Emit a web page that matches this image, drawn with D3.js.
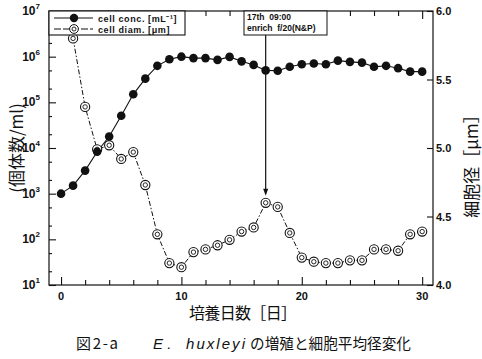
<!DOCTYPE html>
<html><head><meta charset="utf-8">
<script src="https://cdn.jsdelivr.net/npm/d3@7"></script>
<style>body{margin:0;background:#fff} svg{display:block}</style>
</head><body><svg id="c" width="482" height="359"></svg>
<script>
// ---- data ----
const concDays = d3.range(0, 31);
const cellConc = [1000,1500,3200,8300,17800,51000,150000,330000,630000,880000,1000000,930000,930000,850000,990000,790000,660000,500000,490000,600000,680000,710000,680000,820000,770000,740000,600000,630000,560000,470000,470000];
const diamDays = d3.range(1, 31);
const cellDiam = [5.80,5.30,4.99,5.02,4.92,4.97,4.73,4.37,4.16,4.13,4.24,4.26,4.29,4.33,4.39,4.42,4.60,4.57,4.38,4.20,4.17,4.16,4.16,4.18,4.18,4.26,4.26,4.25,4.37,4.39];
const xTickLabels = [0, 10, 20, 30];
const leftExps = [1, 2, 3, 4, 5, 6, 7];
const rightTickLabels = ["4.0", "4.5", "5.0", "5.5", "6.0"];
const legendLabels = ["cell conc. [mL\u207B\u00B9]", "cell diam. [\u03BCm]"];
const noteLines = ["17th  09:00", "enrich  f/20(N&P)"];
const noteDay = 17;
const xTitle = "培養日数［日］";
const leftTitle = "(個体数/ml)";
const rightTitle = "細胞径［μm］";
const capParts = ["図 2 - a", "E .", "huxleyi", "の増殖と細胞平均径変化"];

// ---- layout ----
const L = 49, R = 433, T = 11, B = 285;
const ink = "#111";
const svg = d3.select("#c");
const x = d3.scaleLinear().domain([-1, 30.9]).range([L, R]);
const yL = d3.scaleLog().domain([10, 1e7]).range([B, T]);
const yR = d3.scaleLinear().domain([4, 6]).range([B, T]);
const numFont = "'Liberation Sans', Arial, sans-serif";
const jpFont = "'Noto Sans CJK JP', sans-serif";

// frame
svg.append("rect").attr("x", L).attr("y", T).attr("width", R - L).attr("height", B - T)
  .attr("fill", "none").attr("stroke", ink).attr("stroke-width", 1.2);

// bottom / top ticks
const xTickVals = d3.range(0, 31, 2);
function styleAxis(g) {
  g.select(".domain").remove();
  g.selectAll("line").attr("stroke", ink).attr("stroke-width", 1.1);
  g.selectAll("text").remove();
}
svg.append("g").attr("transform", `translate(0,${B})`)
  .call(d3.axisBottom(x).tickValues(xTickVals).tickSize(-5))
  .call(styleAxis)
  .selectAll(".tick line").attr("y2", d => d % 10 === 0 ? -8 : -5);
svg.append("g").attr("transform", `translate(0,${T})`)
  .call(d3.axisTop(x).tickValues(xTickVals).tickSize(-5))
  .call(styleAxis)
  .selectAll(".tick line").attr("y2", d => d % 10 === 0 ? 8 : 5);
svg.append("g").selectAll("text").data(xTickLabels).join("text")
  .attr("x", d => x(d)).attr("y", B + 15).attr("text-anchor", "middle")
  .attr("font-family", numFont).attr("font-weight", "bold").attr("font-size", 11).attr("fill", ink)
  .text(d => d);

// left axis
const leftTickVals = [];
leftExps.forEach(e => { leftTickVals.push(Math.pow(10, e)); if (e < 7) { leftTickVals.push(2 * Math.pow(10, e)); leftTickVals.push(5 * Math.pow(10, e)); } });
svg.append("g").attr("transform", `translate(${L},0)`)
  .call(d3.axisLeft(yL).tickValues(leftTickVals).tickSize(-3))
  .call(styleAxis)
  .selectAll(".tick line").attr("x2", d => Math.abs(Math.log10(d) % 1) < 1e-9 ? 7 : 3);
const lt = svg.append("g").selectAll("text").data(leftExps).join("text")
  .attr("x", 40).attr("y", d => yL(Math.pow(10, d)) + 4).attr("text-anchor", "end")
  .attr("font-family", numFont).attr("font-weight", "bold").attr("font-size", 12).attr("fill", ink);
lt.append("tspan").text("10");
lt.append("tspan").attr("font-size", 8).attr("dy", -6).text(d => d);

// right axis
svg.append("g").attr("transform", `translate(${R},0)`)
  .call(d3.axisRight(yR).tickValues([4, 4.5, 5, 5.5, 6]).tickSize(-6))
  .call(styleAxis);
svg.append("g").selectAll("text").data(rightTickLabels).join("text")
  .attr("x", R + 3).attr("y", d => yR(+d) + 4)
  .attr("font-family", numFont).attr("font-weight", "bold").attr("font-size", 11).attr("fill", ink)
  .text(d => d);

// diameter line (dash-dot)
const diamData = diamDays.map((d, i) => [d, cellDiam[i]]);
svg.append("path").datum(diamData)
  .attr("d", d3.line().x(d => x(d[0])).y(d => yR(d[1])))
  .attr("fill", "none").attr("stroke", ink).attr("stroke-width", 1).attr("stroke-dasharray", "5,2,1.5,2");
// conc line
const concData = concDays.map((d, i) => [d, cellConc[i]]);
svg.append("path").datum(concData)
  .attr("d", d3.line().x(d => x(d[0])).y(d => yL(d[1])))
  .attr("fill", "none").attr("stroke", ink).attr("stroke-width", 1.1);

// annotation arrow
const ax = x(noteDay);
const tipY = yR(cellDiam[diamDays.indexOf(noteDay)]) - 7;
svg.append("line").attr("x1", ax).attr("x2", ax).attr("y1", 35).attr("y2", tipY - 4)
  .attr("stroke", ink).attr("stroke-width", 1.2);
svg.append("path").attr("d", `M${ax - 2.5},${tipY - 7}L${ax + 2.5},${tipY - 7}L${ax},${tipY}Z`).attr("fill", ink);

// open double-circle markers
const dm = svg.append("g").selectAll("g").data(diamData).join("g")
  .attr("transform", d => `translate(${x(d[0])},${yR(d[1])})`);
dm.append("circle").attr("r", 4.6).attr("fill", "#fff").attr("stroke", ink).attr("stroke-width", 1.1);
dm.append("circle").attr("r", 2.2).attr("fill", "none").attr("stroke", ink).attr("stroke-width", 0.9);

// filled markers
svg.append("g").selectAll("circle").data(concData).join("circle")
  .attr("cx", d => x(d[0])).attr("cy", d => yL(d[1])).attr("r", 4.3).attr("fill", ink);

// legend
const lg = svg.append("g");
lg.append("rect").attr("x", L).attr("y", T).attr("width", 136).attr("height", 24)
  .attr("fill", "#fff").attr("stroke", ink).attr("stroke-width", 1.1);
const rows = lg.selectAll("g").data(legendLabels).join("g")
  .attr("transform", (d, i) => `translate(0,${T + 7 + i * 11})`);
rows.append("line").attr("x1", L + 5).attr("x2", L + 44).attr("y1", 0).attr("y2", 0)
  .attr("stroke", ink).attr("stroke-width", 1.1)
  .attr("stroke-dasharray", (d, i) => i === 0 ? null : "7,2");
rows.each(function (d, i) {
  const g = d3.select(this);
  if (i === 0) {
    g.append("circle").attr("cx", L + 25).attr("cy", 0).attr("r", 4.2).attr("fill", ink);
  } else {
    g.append("circle").attr("cx", L + 25).attr("cy", 0).attr("r", 4.4).attr("fill", "#fff").attr("stroke", ink).attr("stroke-width", 1);
    g.append("circle").attr("cx", L + 25).attr("cy", 0).attr("r", 2).attr("fill", "none").attr("stroke", ink).attr("stroke-width", 0.9);
  }
});
rows.append("text").attr("x", L + 49).attr("y", 3.5)
  .attr("font-family", numFont).attr("font-size", 9).attr("font-weight", "bold").attr("letter-spacing", 0.6)
  .attr("fill", ink).text(d => d);

// note box
const nb = svg.append("g");
nb.append("rect").attr("x", 244).attr("y", T).attr("width", 83).attr("height", 24)
  .attr("fill", "#fff").attr("stroke", ink).attr("stroke-width", 1);
nb.selectAll("text").data(noteLines).join("text")
  .attr("x", 247).attr("y", (d, i) => T + 9 + i * 11)
  .attr("font-family", numFont).attr("font-size", 8.5).attr("font-weight", "bold")
  .attr("fill", ink).attr("xml:space", "preserve").style("white-space", "pre").text(d => d);

// titles
svg.append("text").attr("x", 243).attr("y", 319).attr("text-anchor", "middle")
  .attr("font-family", jpFont).attr("font-size", 16).attr("fill", ink)
  .attr("textLength", 108).attr("lengthAdjust", "spacing").text(xTitle);
svg.append("text").attr("transform", `translate(23,${(T + B) / 2}) rotate(-90)`).attr("text-anchor", "middle")
  .attr("font-family", jpFont).attr("font-size", 17).attr("fill", ink).text(leftTitle);
svg.append("text").attr("transform", `translate(478,${(T + B) / 2 + 14}) rotate(-90)`).attr("text-anchor", "middle")
  .attr("font-family", jpFont).attr("font-size", 17).attr("fill", ink).text(rightTitle);

// caption
const capG = svg.append("g").attr("fill", ink).attr("font-size", 15);
capG.append("text").attr("x", 76).attr("y", 349).attr("font-family", jpFont).style("white-space", "pre")
  .attr("textLength", 42).attr("lengthAdjust", "spacing").text(capParts[0]);
capG.append("text").attr("x", 153).attr("y", 349).attr("font-family", numFont).attr("font-style", "italic")
  .style("white-space", "pre").text(capParts[1]);
capG.append("text").attr("x", 186).attr("y", 349).attr("font-family", numFont).attr("font-style", "italic")
  .attr("textLength", 59).attr("lengthAdjust", "spacing").text(capParts[2]);
capG.append("text").attr("x", 250).attr("y", 349).attr("font-family", jpFont)
  .attr("textLength", 161).attr("lengthAdjust", "spacingAndGlyphs").text(capParts[3]);
</script></body></html>
